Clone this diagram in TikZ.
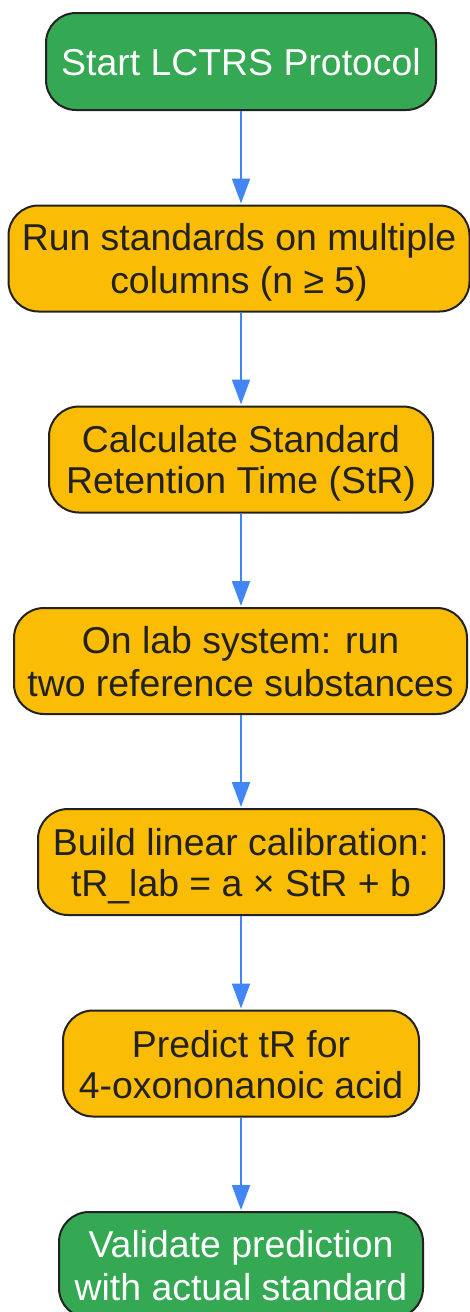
\documentclass[tikz,border=0pt]{standalone}
\usepackage{fontspec}
\setmainfont{Liberation Sans}
\usetikzlibrary{arrows.meta}
\definecolor{gfill}{HTML}{34A853}
\definecolor{yfill}{HTML}{FBBC05}
\definecolor{bline}{HTML}{4285F4}
\definecolor{edge}{HTML}{222222}
\newcommand\lstr{\rule[-6.5pt]{0pt}{41pt}}
\tikzset{
  box/.style={draw=edge, line width=2pt, rounded corners=30pt, inner sep=0pt,
    align=center, minimum height=106pt,
    font=\fontsize{37.4}{41}\selectfont},
  gbox/.style={box, fill=gfill, text=white},
  ybox/.style={box, fill=yfill, text=edge},
  flow/.style={draw=bline, line width=2pt,
    -{Triangle[length=25pt,width=18pt]}, shorten >=1pt}
}
\begin{document}
\begin{tikzpicture}[x=1pt,y=-1pt]
\useasboundingbox (0,0) rectangle (470,1312);
\node[gbox, minimum width=390pt, minimum height=97pt] (n1) at (241,61.5) {\lstr Start LCTRS Protocol};
\node[ybox, minimum width=461pt] (n2) at (239,258.5) {\lstr Run standards on multiple\\\lstr columns (n ≥ 5)};
\node[ybox, minimum width=384pt] (n3) at (241,459.5) {\lstr Calculate Standard\\\lstr Retention Time (StR)};
\node[ybox, minimum width=453pt] (n4) at (240.5,661) {\lstr On lab system: run\\\lstr two reference substances};
\node[ybox, minimum width=406pt] (n5) at (241,862) {\lstr Build linear calibration:\\\lstr tR\_lab = a × StR + b};
\node[ybox, minimum width=356pt] (n6) at (241,1063.5) {\lstr Predict tR for\\\lstr 4-oxononanoic acid};
\node[gbox, minimum width=364pt] (n7) at (241,1265) {\lstr Validate prediction\\\lstr with actual standard};
\foreach \a/\b in {n1/n2,n2/n3,n3/n4,n4/n5,n5/n6,n6/n7}
  \draw[flow] (\a.south -| 241,0) -- (\b.north -| 241,0);
\end{tikzpicture}
\end{document}
